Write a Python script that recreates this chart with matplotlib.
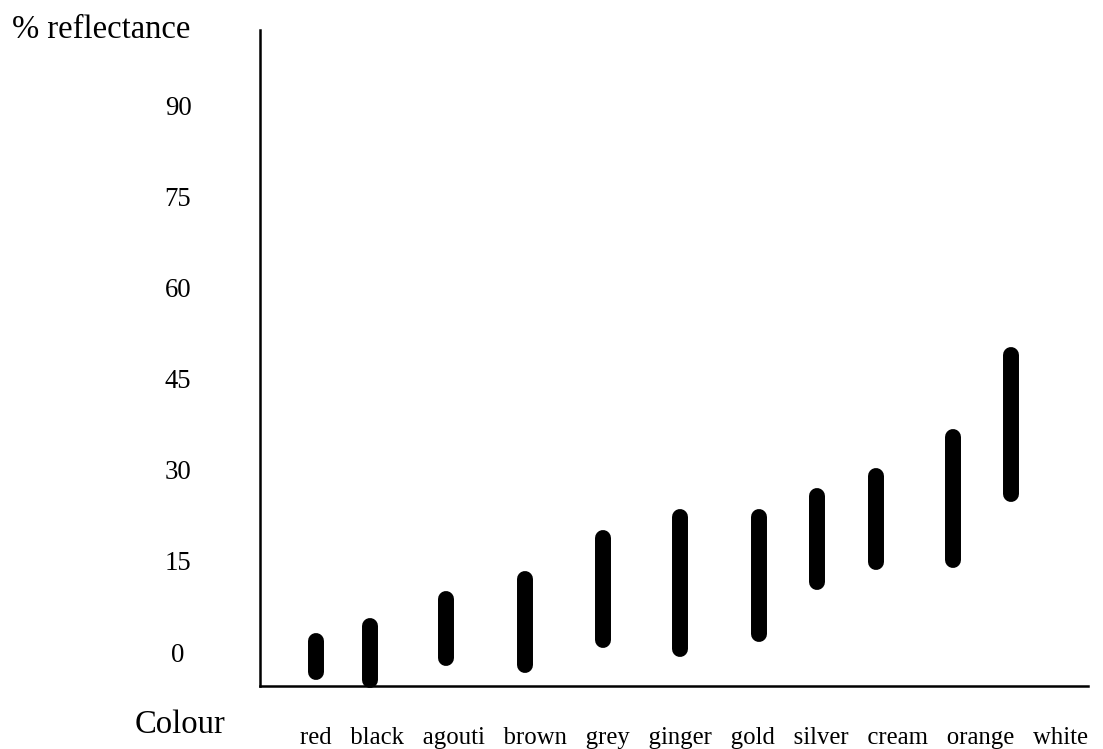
import matplotlib
matplotlib.use("Agg")
import matplotlib.pyplot as plt

# coat colours and their reflectance ranges (%)
colours = ["red", "black", "agouti", "brown", "grey", "ginger",
           "gold", "silver", "cream", "orange", "white"]
low = [-3.3, -4.6, -1.0, -2.1, 2.0, 0.5, 3.0, 11.5, 14.8, 15.1, 26.0]
high = [1.8, 4.3, 8.7, 12.0, 18.8, 22.3, 22.3, 25.7, 29.0, 35.5, 49.0]
# hand-drawn, so the bars are not evenly spaced
bar_x = [0.72, 1.42, 2.40, 3.42, 4.43, 5.42, 6.43, 7.19, 7.94, 8.94, 9.69]
yticks = [0, 15, 30, 45, 60, 75, 90]

plt.rcParams['font.family'] = ['Liberation Serif', 'DejaVu Serif']

fig = plt.figure(figsize=(11.03, 7.49), dpi=100)
ax = fig.add_axes([260 / 1103, 1 - 686 / 749, 828 / 1103, 656 / 749])

for x, lo, hi in zip(bar_x, low, high):
    ax.plot([x, x], [lo, hi], color="black", lw=11.5,
            solid_capstyle="round", clip_on=False)

ax.set_xlim(0, 10.68)
ax.set_ylim(-5.6, 102.5)
ax.set_xticks([])
ax.set_yticks(yticks)
ax.set_yticklabels([str(v) for v in yticks], fontsize=19.3)
ax.tick_params(axis="y", length=0, pad=59)
for lab in ax.get_yticklabels():
    lab.set_horizontalalignment("center")

for s in ["top", "right"]:
    ax.spines[s].set_visible(False)
for s in ["left", "bottom"]:
    ax.spines[s].set_linewidth(1.8)

fig.text(12 / 1103, 1 - 38 / 749, "% reflectance", fontsize=23.5,
         ha="left", va="baseline")
fig.text(135 / 1103, 1 - 733 / 749, "Colour", fontsize=23.5,
         ha="left", va="baseline")
fig.text(300 / 1103, 1 - 744 / 749, "   ".join(colours), fontsize=17.85,
         ha="left", va="baseline")

plt.savefig("out.png", dpi=100)
